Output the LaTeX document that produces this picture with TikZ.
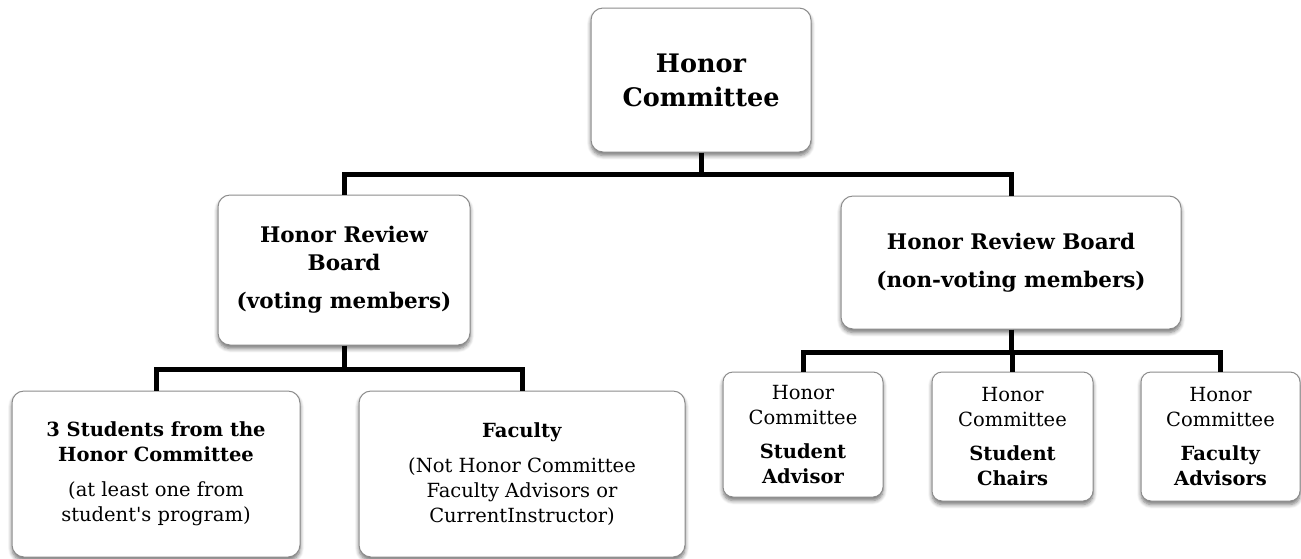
\documentclass[tikz,border=0pt]{standalone}
\usepackage{fontspec}
\setmainfont{DejaVu Serif}
\newfontfamily\plainserif{DejaVu Serif}
\usetikzlibrary{shadows.blur}
\definecolor{boxgray}{HTML}{8C8C8C}
\tikzset{
  box/.style={draw=boxgray, line width=1pt, fill=white, rounded corners=12pt,
    align=center, inner sep=0pt,
    blur shadow={shadow xshift=0pt, shadow yshift=-3.5pt, shadow blur steps=6, shadow blur radius=4pt, shadow opacity=55}},
  body/.style={font=\fontsize{19.5}{25}\selectfont},
  conn/.style={line width=5pt, line join=miter, draw=black},
}
\begin{document}
\begin{tikzpicture}[x=1pt,y=-1pt]
\useasboundingbox (0,0) rectangle (1301,558);
% boxes
\node[box, minimum width=220pt, minimum height=144pt,
      font=\bfseries\fontsize{25.5}{34}\selectfont] (hc) at (701,80) {Honor\\Committee};
\node[box, minimum width=252pt, minimum height=150pt,
      font=\bfseries\fontsize{21.5}{28}\selectfont] (hrbv) at (344,270) {Honor Review\\Board\\[10pt](voting members)};
\node[box, minimum width=340pt, minimum height=133pt,
      font=\bfseries\fontsize{21.5}{28}\selectfont] (hrbn) at (1011,262.5) {Honor Review Board\\[10pt](non-voting members)};
\node[box, body, minimum width=288pt, minimum height=166pt] (s3) at (156,474)
  {\textbf{3 Students from the}\\\textbf{Honor Committee}\\[10pt](at least one from\\student{\plainserif '}s program)};
\node[box, body, minimum width=326pt, minimum height=166pt] (fac) at (522,474)
  {\textbf{Faculty}\\[10pt](Not Honor Committee\\Faculty Advisors or\\CurrentInstructor)};
\node[box, body, minimum width=160pt, minimum height=125pt, rounded corners=10pt] (sa) at (803,434.5)
  {Honor\\Committee\\[9pt]\textbf{Student}\\\textbf{Advisor}};
\node[box, body, minimum width=161pt, minimum height=129pt, rounded corners=10pt] (sc) at (1012.5,436.5)
  {Honor\\Committee\\[9pt]\textbf{Student}\\\textbf{Chairs}};
\node[box, body, minimum width=159pt, minimum height=129pt, rounded corners=10pt] (fa) at (1220.5,436.5)
  {Honor\\Committee\\[9pt]\textbf{Faculty}\\\textbf{Advisors}};
% junctions
\coordinate (j1) at (701,174);
\coordinate (j2) at (344,369);
\coordinate (j3) at (1011,352);
% connectors
\draw[conn] (hc.south) -- (j1);
\draw[conn] (hrbv.north) |- (j1) -| (hrbn.north);
\draw[conn] (hrbv.south) -- (j2);
\draw[conn] (s3.north) |- (j2) -| (fac.north);
\draw[conn] (hrbn.south) -- (j3);
\draw[conn] (sa.north) |- (j3) -| (fa.north);
\draw[conn] (sc.north) -- (sc.north |- j3);
\end{tikzpicture}
\end{document}
